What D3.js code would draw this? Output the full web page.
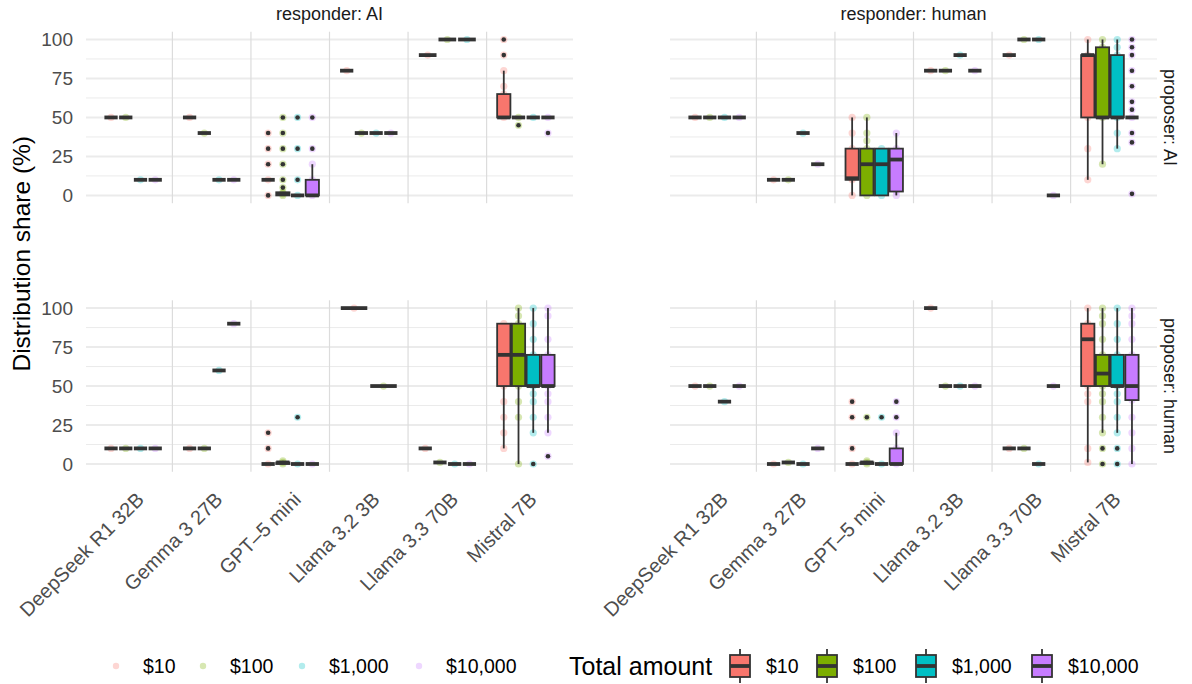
<!DOCTYPE html>
<html>
<head>
<meta charset="utf-8">
<script src="https://cdn.jsdelivr.net/npm/d3@7"></script>
<style>
  body { margin: 0; background: #fff; }
  text { font-family: "Liberation Sans", Arial, sans-serif; }
</style>
</head>
<body>
<svg id="chart" width="1192" height="684"></svg>
<script>
const models = ["DeepSeek R1 32B", "Gemma 3 27B", "GPT\u20135 mini", "Llama 3.2 3B", "Llama 3.3 70B", "Mistral 7B"];
const amounts = ["$10", "$100", "$1,000", "$10,000"];
const amountColors = ["#F8766D", "#7CAE00", "#00BFC4", "#C77CFF"];
const responders = ["AI", "human"];
const proposers = ["AI", "human"];
const yTicks = [0, 25, 50, 75, 100];
const yMinor = [12.5, 37.5, 62.5, 87.5];

// rows: [model, amount, lo, q1, median, q3, hi, outliers, other points]
// a row of [model, amount, v] means every answer was v
const aiByAi = [
  [0, 0, 50], [0, 1, 50], [0, 2, 10], [0, 3, 10],
  [1, 0, 50], [1, 1, 40], [1, 2, 10], [1, 3, 10],
  [2, 0, 10, 10, 10, 10, 10, [0, 20, 30, 40], []],
  [2, 1, 0, 0, 1, 2, 2, [5, 10, 20, 30, 40, 50], []],
  [2, 2, 0, 0, 0, 0, 0, [10, 30, 50], []],
  [2, 3, 0, 0, 0, 10, 20, [30, 50], []],
  [3, 0, 80], [3, 1, 40], [3, 2, 40], [3, 3, 40],
  [4, 0, 90], [4, 1, 100], [4, 2, 100],
  [5, 0, 50, 50, 50, 65, 80, [90, 100], [70]],
  [5, 1, 50, 50, 50, 50, 50, [45], []],
  [5, 2, 50],
  [5, 3, 50, 50, 50, 50, 50, [40], []]
];
const humanByAi = [
  [0, 0, 50], [0, 1, 50], [0, 2, 50], [0, 3, 50],
  [1, 0, 10], [1, 1, 10], [1, 2, 40], [1, 3, 20],
  [2, 0, 0, 10, 11, 30, 50, [], [40]],
  [2, 1, 0, 0, 20, 30, 50, [], [40, 35]],
  [2, 2, 0, 0, 20, 30, 30, [], []],
  [2, 3, 0, 2.5, 23, 30, 40, [], []],
  [3, 0, 80], [3, 1, 80], [3, 2, 90], [3, 3, 80],
  [4, 0, 90], [4, 1, 100], [4, 2, 100], [4, 3, 0],
  [5, 0, 10, 50, 90, 90, 100, [], [30]],
  [5, 1, 20, 50, 50, 95, 100, [], []],
  [5, 2, 30, 50, 50, 90, 100, [], [95, 40]],
  [5, 3, 50, 50, 50, 50, 50, [100, 95, 90, 80, 70, 60, 55, 40, 34, 1], []]
];
const aiByHuman = [
  [0, 0, 10], [0, 1, 10], [0, 2, 10], [0, 3, 10],
  [1, 0, 10], [1, 1, 10], [1, 2, 60], [1, 3, 90],
  [2, 0, 0, 0, 0, 0, 0, [10, 20], []],
  [2, 1, 0, 0, 1, 1, 2, [], []],
  [2, 2, 0, 0, 0, 0, 0, [30], []],
  [2, 3, 0],
  [3, 0, 100], [3, 1, 50],
  [4, 0, 10], [4, 1, 1], [4, 2, 0], [4, 3, 0],
  [5, 0, 10, 50, 70, 90, 90, [], [40, 30, 20]],
  [5, 1, 0, 50, 70, 90, 100, [], [95, 40, 30]],
  [5, 2, 20, 50, 50, 70, 100, [0], [90, 80, 45, 40, 30]],
  [5, 3, 20, 50, 50, 70, 100, [5], [95, 80, 45, 40, 30]]
];
const humanByHuman = [
  [0, 0, 50], [0, 1, 50], [0, 2, 40], [0, 3, 50],
  [1, 0, 0], [1, 1, 1], [1, 2, 0], [1, 3, 10],
  [2, 0, 0, 0, 0, 0, 0, [10, 30, 40], []],
  [2, 1, 0, 0, 1, 1, 2, [30], []],
  [2, 2, 0, 0, 0, 0, 0, [30], []],
  [2, 3, 0, 0, 0, 10, 20, [30, 40], []],
  [3, 0, 100], [3, 1, 50], [3, 2, 50], [3, 3, 50],
  [4, 0, 10], [4, 1, 10], [4, 2, 0], [4, 3, 50],
  [5, 0, 1, 50, 80, 90, 100, [], [45, 40, 10]],
  [5, 1, 20, 50, 58, 70, 100, [10, 0], [95, 90, 80, 45, 40, 30]],
  [5, 2, 20, 50, 50, 70, 100, [10, 0], [90, 80, 45, 40, 30]],
  [5, 3, 0, 41, 50, 70, 100, [], [95, 90, 80, 60, 30, 20, 10]]
];

// row = proposer, col = responder
const panels = [
  {row: 0, col: 0, rows: aiByAi},
  {row: 0, col: 1, rows: humanByAi},
  {row: 1, col: 0, rows: aiByHuman},
  {row: 1, col: 1, rows: humanByHuman}
];

const svg = d3.select("#chart");
const colX = [86, 670], panelW = 487;
const rowY = [31.7, 300.3], panelH = 171.5;
const boxLine = "#333333";

function parseRow(r) {
  if (r.length === 3) return {m: r[0], a: r[1], lo: r[2], q1: r[2], med: r[2], q3: r[2], hi: r[2], out: [], extra: []};
  return {m: r[0], a: r[1], lo: r[2], q1: r[3], med: r[4], q3: r[5], hi: r[6], out: r[7], extra: r[8]};
}

panels.forEach(p => {
  const x = d3.scaleLinear().domain([0.4, 6.6]).range([colX[p.col], colX[p.col] + panelW]);
  const y = d3.scaleLinear().domain([-5, 105]).range([rowY[p.row] + panelH, rowY[p.row]]);
  const g = svg.append("g");

  // grid
  g.selectAll(".minor").data(yMinor).enter().append("line")
    .attr("x1", x.range()[0]).attr("x2", x.range()[1])
    .attr("y1", d => y(d)).attr("y2", d => y(d))
    .attr("stroke", "#ebebeb").attr("stroke-width", 1);
  g.selectAll(".major").data(yTicks).enter().append("line")
    .attr("x1", x.range()[0]).attr("x2", x.range()[1])
    .attr("y1", d => y(d)).attr("y2", d => y(d))
    .attr("stroke", "#ebebeb").attr("stroke-width", 2);
  // separators between models
  g.selectAll(".sep").data(d3.range(1, models.length)).enter().append("line")
    .attr("x1", d => x(d + 0.5)).attr("x2", d => x(d + 0.5))
    .attr("y1", y.range()[0]).attr("y2", y.range()[1])
    .attr("stroke", "#dcdcdc").attr("stroke-width", 1.2);

  // dodge positions
  const groups = p.rows.map(parseRow);
  groups.forEach(d => {
    const same = groups.filter(o => o.m === d.m).sort((a, b) => a.a - b.a);
    const n = same.length, slot = 0.75 / n, j = same.indexOf(d);
    d.cx = x(d.m + 1 - 0.375 + slot * (j + 0.5));
    d.bw = x(slot * 0.9) - x(0);
  });

  // raw answers
  groups.forEach(d => {
    const vals = Array.from(new Set([d.lo, d.q1, d.med, d.q3, d.hi, ...d.out, ...d.extra]));
    g.selectAll(null).data(vals).enter().append("circle")
      .attr("cx", d.cx).attr("cy", v => y(v)).attr("r", 3.6)
      .attr("fill", amountColors[d.a]).attr("fill-opacity", 0.3);
  });

  // boxplots
  groups.forEach(d => {
    const bg = g.append("g");
    bg.append("line").attr("x1", d.cx).attr("x2", d.cx).attr("y1", y(d.lo)).attr("y2", y(d.q1))
      .attr("stroke", boxLine).attr("stroke-width", 1.8);
    bg.append("line").attr("x1", d.cx).attr("x2", d.cx).attr("y1", y(d.q3)).attr("y2", y(d.hi))
      .attr("stroke", boxLine).attr("stroke-width", 1.8);
    bg.append("rect").attr("x", d.cx - d.bw / 2).attr("width", d.bw)
      .attr("y", y(d.q3)).attr("height", Math.max(0, y(d.q1) - y(d.q3)))
      .attr("fill", amountColors[d.a]).attr("stroke", boxLine).attr("stroke-width", 1.8);
    bg.append("line").attr("x1", d.cx - d.bw / 2).attr("x2", d.cx + d.bw / 2)
      .attr("y1", y(d.med)).attr("y2", y(d.med))
      .attr("stroke", boxLine).attr("stroke-width", 3.8);
    bg.selectAll("circle").data(d.out).enter().append("circle")
      .attr("cx", d.cx).attr("cy", v => y(v)).attr("r", 2.3).attr("fill", boxLine);
  });

  // y axis text on left column
  if (p.col === 0) {
    g.selectAll(".ytick").data(yTicks).enter().append("text")
      .attr("x", colX[0] - 13).attr("y", d => y(d)).attr("dy", "0.36em")
      .attr("text-anchor", "end").attr("font-size", 19).attr("fill", "#4d4d4d")
      .text(d => d);
  }
  // x axis text on bottom row
  if (p.row === 1) {
    g.selectAll(".xtick").data(models).enter().append("text")
      .attr("transform", (d, i) => "translate(" + (x(i + 1) + 2) + "," + (rowY[1] + panelH + 19) + ") rotate(-45)")
      .attr("text-anchor", "end").attr("dy", "0.71em")
      .attr("font-size", 20).attr("fill", "#4d4d4d")
      .text(d => d);
  }
  // strips
  if (p.row === 0) {
    svg.append("text").attr("x", colX[p.col] + panelW / 2).attr("y", 20)
      .attr("text-anchor", "middle").attr("font-size", 18).attr("fill", "#1a1a1a")
      .text("responder: " + responders[p.col]);
  }
  if (p.col === 1) {
    svg.append("text")
      .attr("transform", "translate(" + 1164 + "," + (rowY[p.row] + panelH / 2) + ") rotate(90)")
      .attr("text-anchor", "middle").attr("font-size", 18).attr("fill", "#1a1a1a")
      .text("proposer: " + proposers[p.row]);
  }
});

// y axis title
svg.append("text")
  .attr("transform", "translate(30," + ((rowY[0] + rowY[1] + panelH) / 2 + 2) + ") rotate(-90)")
  .attr("text-anchor", "middle").attr("font-size", 24.5).attr("fill", "#000")
  .text("Distribution share (%)");

// legend: raw answers
const legY = 666;
const dotLegX = [116, 203, 302, 419];
const dotLeg = svg.append("g");
amounts.forEach((a, i) => {
  dotLeg.append("circle").attr("cx", dotLegX[i]).attr("cy", legY).attr("r", 3.2)
    .attr("fill", amountColors[i]).attr("fill-opacity", 0.3);
  dotLeg.append("text").attr("x", dotLegX[i] + 27).attr("y", legY).attr("dy", "0.36em")
    .attr("font-size", 19.5).attr("fill", "#000").text(a);
});

// legend: total amount boxes
const boxLeg = svg.append("g");
boxLeg.append("text").attr("x", 569).attr("y", legY).attr("dy", "0.36em")
  .attr("font-size", 25).attr("fill", "#000").text("Total amount");
const boxLegX = [740, 827, 926, 1042];
amounts.forEach((a, i) => {
  const cx = boxLegX[i];
  boxLeg.append("line").attr("x1", cx).attr("x2", cx).attr("y1", legY - 17).attr("y2", legY + 17)
    .attr("stroke", boxLine).attr("stroke-width", 1.8);
  boxLeg.append("rect").attr("x", cx - 10).attr("y", legY - 11).attr("width", 20).attr("height", 22)
    .attr("fill", amountColors[i]).attr("stroke", boxLine).attr("stroke-width", 1.8);
  boxLeg.append("line").attr("x1", cx - 10).attr("x2", cx + 10).attr("y1", legY).attr("y2", legY)
    .attr("stroke", boxLine).attr("stroke-width", 3.8);
  boxLeg.append("text").attr("x", cx + 26).attr("y", legY).attr("dy", "0.36em")
    .attr("font-size", 19.5).attr("fill", "#000").text(a);
});
</script>
</body>
</html>
